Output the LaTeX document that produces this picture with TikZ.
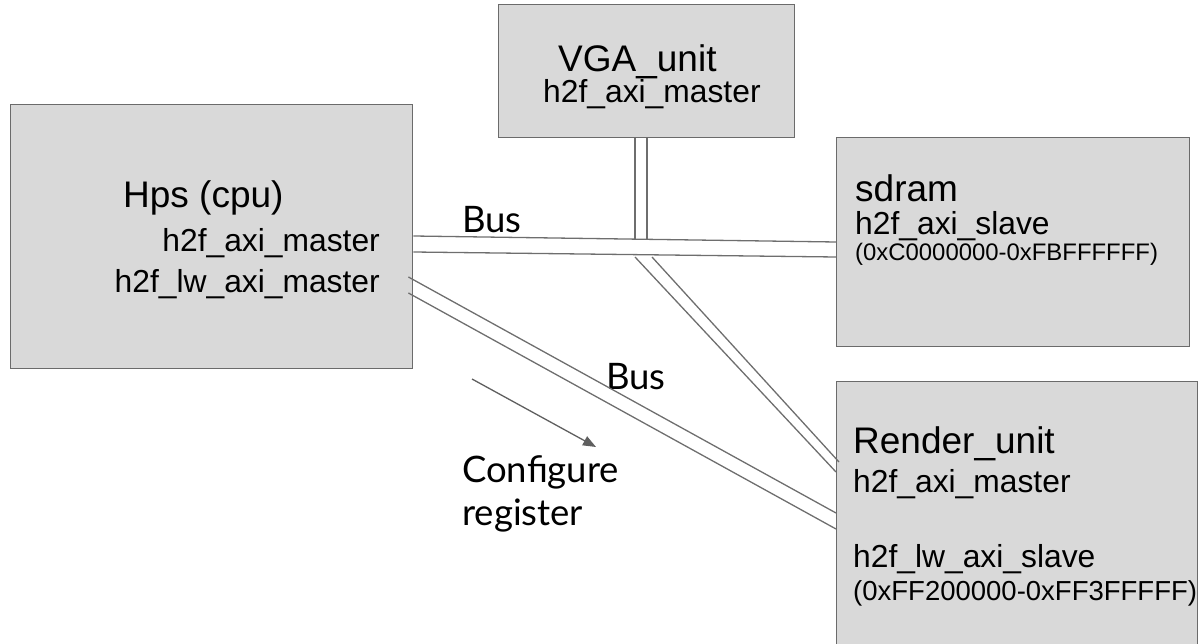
\documentclass[tikz,border=0pt]{standalone}
\usepackage{fontspec}
\setmainfont{Liberation Sans}
\newfontfamily\busfont{Lato}
\usetikzlibrary{calc,arrows.meta}
\definecolor{boxfill}{HTML}{D9D9D9}
\definecolor{boxline}{HTML}{6B6B6B}
\definecolor{busline}{HTML}{6E6E6E}
\definecolor{arrowgray}{HTML}{5F5F5F}
\tikzset{
  unitbox/.style={draw=boxline, fill=boxfill, line width=1.4pt, inner sep=0pt, anchor=north west},
  titletxt/.style={inner sep=0pt, font=\fontsize{37}{42}\selectfont},
  porttxt/.style={inner sep=0pt, font=\fontsize{31.8}{36}\selectfont},
  addrtxt/.style={inner sep=0pt, font=\fontsize{23.9}{28}\selectfont},
  bigaddrtxt/.style={inner sep=0pt, font=\fontsize{27.5}{32}\selectfont},
  bustxt/.style={inner sep=0pt, anchor=base west, font=\busfont\fontsize{36.5}{44}\selectfont},
  busline/.style={draw=busline, line width=1.3pt},
  cfgarrow/.style={draw=arrowgray, line width=1.3pt, -{Triangle[length=13pt,width=10pt]}}
}
\begin{document}
\begin{tikzpicture}[x=1pt,y=-1pt]
\useasboundingbox (0,0) rectangle (1199,644);
\clip (0,0) rectangle (1199,644);
% boxes
\node[unitbox, minimum width=402pt, minimum height=264pt] (hps) at (10,104) {};
\node[unitbox, minimum width=296pt, minimum height=133pt] (vga) at (498,4) {};
\node[unitbox, minimum width=353pt, minimum height=209pt] (sdram) at (836,137) {};
\node[unitbox, minimum width=361pt, minimum height=290pt] (render) at (836,381) {};
% texts
\node[titletxt, anchor=base west] (hpst) at (123,208) {Hps (cpu)};
\node[porttxt, anchor=base east] (hpsp1) at (380,252) {h2f\_axi\_master};
\node[porttxt, anchor=base east] (hpsp2) at (380,292) {h2f\_lw\_axi\_master};
\node[titletxt, anchor=base west] (vgat) at (558,72) {VGA\_unit};
\node[porttxt, anchor=base west] (vgap) at (543,103) {h2f\_axi\_master};
\node[titletxt, anchor=base west] (sdramt) at (855,202) {sdram};
\node[porttxt, anchor=base west] (sdramp) at (855,235) {h2f\_axi\_slave};
\node[addrtxt, anchor=base west] (sdrama) at (855,261) {(0xC0000000-0xFBFFFFFF)};
\node[titletxt, anchor=base west] (rendt) at (853,453) {Render\_unit};
\node[porttxt, anchor=base west] (rendp1) at (853,492) {h2f\_axi\_master};
\node[porttxt, anchor=base west] (rendp2) at (853,567) {h2f\_lw\_axi\_slave};
\node[bigaddrtxt, anchor=base west] (renda) at (853,600) {(0xFF200000-0xFF3FFFFF)};
\node[bustxt] (bus1) at (462,233) {Bus};
\node[bustxt] (bus2) at (606,389) {Bus};
\node[bustxt] (cfg1) at (462,482) {Configure};
\node[bustxt] (cfg2) at (462,525) {register};
% junction coordinates on the main bus
\coordinate (j1) at (635,239.2);
\coordinate (j2) at (647,239.4);
\coordinate (j3) at (635,257);
\coordinate (j4) at (652,257);
% main bus hps <-> sdram
\draw[busline] ($(hps.north east)+(0,132)$) -- ($(sdram.north west)+(0,105)$);
\draw[busline] ($(hps.north east)+(0,148)$) -- ($(sdram.north west)+(0,120)$);
% vga down to bus
\draw[busline] ($(vga.south west)+(137,0)$) -- (j1);
\draw[busline] ($(vga.south west)+(149,0)$) -- (j2);
% bus down to render
\draw[busline] (j3) -- ($(render.north west)+(0,91)$);
\draw[busline] (j4) -- ($(render.north west)+(3,81)$);
% lw bus hps -> render
\draw[busline] ($(hps.north east)+(-5,173)$) -- ($(render.north west)+(0,132)$);
\draw[busline] ($(hps.north east)+(-5,189)$) -- ($(render.north west)+(0,148)$);
% configure arrow
\coordinate (a1) at (472,379);
\coordinate (a2) at (596,447);
\draw[cfgarrow] (a1) -- (a2);
\end{tikzpicture}
\end{document}
